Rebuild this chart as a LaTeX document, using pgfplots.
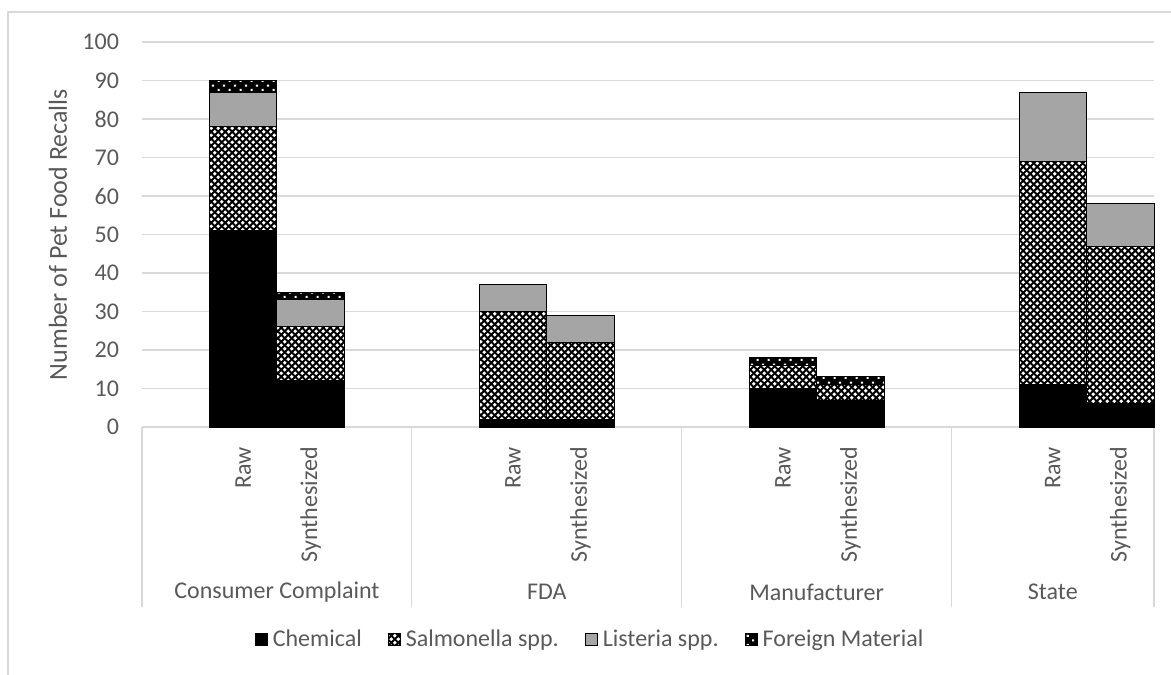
\documentclass[border=0pt]{standalone}
\usepackage{pgfplots}
\pgfplotsset{compat=1.18}
\usepackage{fontspec}
\setmainfont{Carlito}
\usetikzlibrary{patterns.meta}

\definecolor{gridgray}{HTML}{D9D9D9}
\definecolor{textgray}{HTML}{595959}
\definecolor{listgray}{HTML}{A5A5A5}

% diagonal lattice used for Salmonella
\pgfdeclarepattern{
  name=lattice,
  type=uncolored,
  bottom left={\pgfpoint{0pt}{0pt}},
  top right={\pgfpoint{3.6pt}{3.6pt}},
  tile size={\pgfpoint{3.6pt}{3.6pt}},
  code={
    \pgfsetlinewidth{1.0pt}
    \pgfsetrectcap
    \pgfpathmoveto{\pgfpoint{0pt}{0pt}}\pgfpathlineto{\pgfpoint{3.6pt}{3.6pt}}
    \pgfpathmoveto{\pgfpoint{0pt}{3.6pt}}\pgfpathlineto{\pgfpoint{3.6pt}{0pt}}
    \pgfusepath{stroke}
  }
}
% staggered dots used for Foreign Material
\pgfdeclarepattern{
  name=fdots,
  type=uncolored,
  bottom left={\pgfpoint{0pt}{0pt}},
  top right={\pgfpoint{5.4pt}{4.6pt}},
  tile size={\pgfpoint{5.4pt}{4.6pt}},
  code={
    \pgfpathrectangle{\pgfpoint{0.8pt}{0.6pt}}{\pgfpoint{1.1pt}{1.1pt}}
    \pgfpathrectangle{\pgfpoint{3.5pt}{2.9pt}}{\pgfpoint{1.1pt}{1.1pt}}
    \pgfusepath{fill}
  }
}

\pgfplotstableread{
x    chem salm list foreign
1.5  51   27   9    3
2.5  12   14   7    2
5.5  2    28   7    0
6.5  2    20   7    0
9.5  10   6    0    2
10.5 7    4    0    2
13.5 11   58   18   0
14.5 6    41   11   0
}\recalls

\newcommand{\lblfont}{\fontsize{12}{14}\selectfont}

\begin{document}
\begin{tikzpicture}
\begin{axis}[
  at={(0,0)}, anchor=south west,
  scale only axis, width=506pt, height=192.5pt,
  xmin=0, xmax=15, ymin=0, ymax=100,
  ybar stacked, bar width=1,
  axis line style={draw=none},
  major tick length=0pt,
  ytick={0,10,...,100},
  ymajorgrids,
  grid style={color=gridgray, line width=0.6pt},
  xtick={1.5,2.5,5.5,6.5,9.5,10.5,13.5,14.5},
  xticklabels={Raw,Synthesized,Raw,Synthesized,Raw,Synthesized,Raw,Synthesized},
  % shift is along the rotated text direction, i.e. downwards
  xticklabel style={rotate=90, anchor=east, xshift=-6.5pt, font=\lblfont, text=textgray},
  yticklabel style={xshift=-8pt, font=\lblfont, text=textgray},
  /pgf/number format/assume math mode=true,
  ylabel={Number of Pet Food Recalls},
  every axis y label/.style={at={(rel axis cs:0,0.5)}, xshift=-42pt, rotate=90, anchor=center, font=\fontsize{13}{15}\selectfont, text=textgray},
  clip=false,
  legend columns=4,
  legend cell align=left,
  legend image code/.code={\draw[#1] (0pt,-3pt) rectangle (6pt,3pt);},
  legend style={draw=none, fill=none, at={(rel axis cs:0.4437,-0.553)}, anchor=center,
    font=\lblfont, text=textgray,
    /tikz/every even column/.append style={column sep=11pt},
    /tikz/every odd column/.append style={column sep=0.5pt}},
]
\addplot[fill=black, draw=black, line width=0.5pt] table[x=x, y=chem] {\recalls};
\addlegendentry{Chemical}
\addplot[fill=white, draw=black, line width=0.5pt, postaction={pattern=lattice, pattern color=black}] table[x=x, y=salm] {\recalls};
\addlegendentry{Salmonella spp.}
\addplot[fill=listgray, draw=black, line width=0.5pt] table[x=x, y=list] {\recalls};
\addlegendentry{Listeria spp.}
\addplot[fill=black, draw=black, line width=0.5pt, postaction={pattern=fdots, pattern color=white}] table[x=x, y=foreign] {\recalls};
\addlegendentry{Foreign Material}

% category axis: base line, separators and group names
\draw[gridgray, line width=0.6pt] (axis cs:0,0) -- (axis cs:15,0);
\pgfplotsinvokeforeach{0,4,8,12,15}{
  \draw[gridgray, line width=0.6pt] (axis cs:#1,0) -- ++(0,-90pt);
}
\node[font=\lblfont, text=textgray] at ([yshift=-82.5pt]axis cs:2,0) {Consumer Complaint};
\node[font=\lblfont, text=textgray] at ([yshift=-82.5pt]axis cs:6,0) {FDA};
\node[font=\lblfont, text=textgray] at ([yshift=-82.5pt]axis cs:10,0) {Manufacturer};
\node[font=\lblfont, text=textgray] at ([yshift=-82.5pt]axis cs:13.5,0) {State};
\end{axis}
% chart frame
\draw[gridgray, line width=0.75pt] (-67pt,-130pt) -- (-67pt,207.5pt) -- (520pt,207.5pt);
\pgfresetboundingbox
\path[use as bounding box] (-71pt,-123.5pt) rectangle (514.5pt,213.5pt);
\end{tikzpicture}
\end{document}
